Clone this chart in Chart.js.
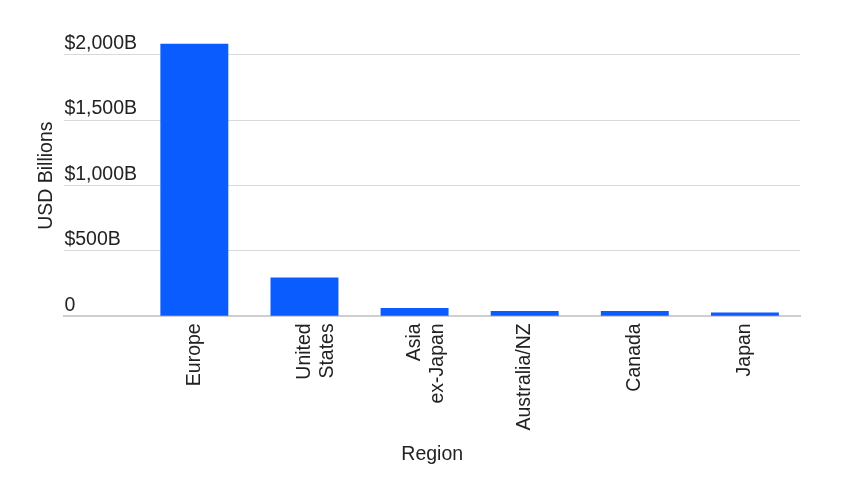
<!DOCTYPE html>
<html>
<head>
<meta charset="utf-8">
<script src="https://cdn.jsdelivr.net/npm/chart.js@4.4.1/dist/chart.umd.min.js"></script>
<style>
  html, body { margin: 0; padding: 0; background: #fff; }
  #wrap { width: 842px; height: 490px; }
</style>
</head>
<body>
<div id="wrap"><canvas id="barChart" width="842" height="490"></canvas></div>
<script>
const regions = ["Europe", ["United", "States"], ["Asia", "ex-Japan"], "Australia/NZ", "Canada", "Japan"];
const usdBillions = [2084, 297, 63, 40, 40, 30];
const yTicks = [0, 500, 1000, 1500, 2000];

const textColor = "#222222";
const font = { family: "Arial, 'Liberation Sans', sans-serif", size: 19.5 };

const ctx = document.getElementById("barChart").getContext("2d");
new Chart(ctx, {
  type: "bar",
  data: {
    datasets: [{
      label: "USD Billions",
      data: usdBillions.map((v, i) => ({ x: i, y: v })),
      backgroundColor: "#0b5cff",
      barPercentage: 0.617,
      categoryPercentage: 1
    }]
  },
  options: {
    responsive: false,
    maintainAspectRatio: false,
    animation: false,
    layout: {
      padding: { left: 35, right: 42, top: 35, bottom: 24 }
    },
    plugins: {
      legend: { display: false },
      tooltip: { enabled: false }
    },
    scales: {
      x: {
        type: "linear",
        min: -1.18,
        max: 5.5,
        offset: false,
        afterBuildTicks: (scale) => {
          scale.ticks = regions.map((r, i) => ({ value: i }));
        },
        grid: { display: false, drawTicks: false },
        border: { display: true, color: "#cfcfcf", width: 2 },
        ticks: {
          autoSkip: false,
          minRotation: 90,
          maxRotation: 90,
          padding: 7,
          color: textColor,
          font: font,
          callback: (v) => regions[v]
        },
        title: {
          display: true,
          text: "Region",
          color: textColor,
          font: font,
          padding: { top: 5, bottom: 0 }
        }
      },
      y: {
        min: 0,
        max: 2150,
        afterBuildTicks: (scale) => {
          scale.ticks = yTicks.map(v => ({ value: v }));
        },
        grid: { color: "#d9d9d9", lineWidth: 1, drawTicks: false },
        border: { display: false },
        ticks: {
          mirror: true,
          padding: 0,
          labelOffset: -11,
          color: textColor,
          font: font,
          callback: (v) => v === 0 ? "0" : "$" + v.toLocaleString("en-US") + "B"
        },
        title: {
          display: true,
          text: "USD Billions",
          color: textColor,
          font: font,
          padding: { top: 0, bottom: 6 }
        }
      }
    }
  }
});
</script>
</body>
</html>
